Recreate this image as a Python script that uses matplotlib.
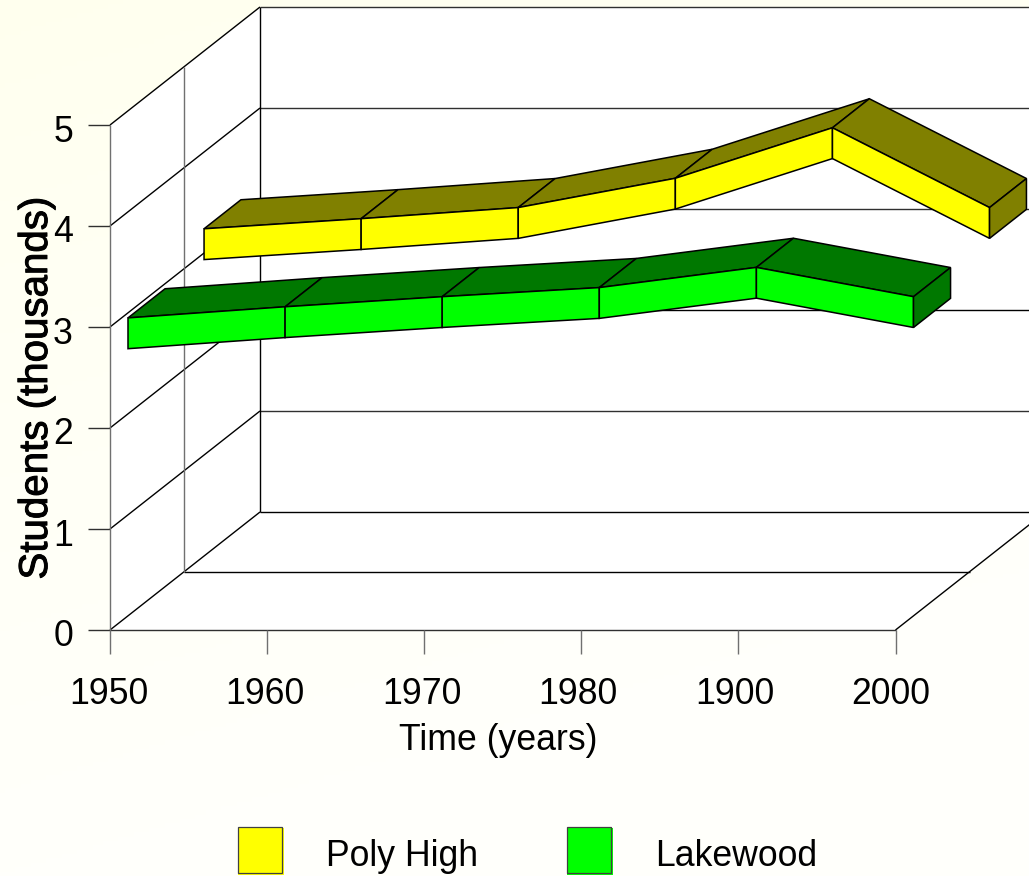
import numpy as np
import matplotlib
matplotlib.use("Agg")
import matplotlib.pyplot as plt
import matplotlib.patheffects as pe
from matplotlib.patches import Polygon, Rectangle
from matplotlib.transforms import Affine2D

plt.rcParams['font.family'] = ['Liberation Sans', 'DejaVu Sans']

# ---- data ----
years = [1950, 1960, 1970, 1980, 1990, 2000]
year_labels = ['1950', '1960', '1970', '1980', '1900', '2000']
value_ticks = [0, 1, 2, 3, 4, 5]
poly_high = [3.24, 3.34, 3.45, 3.74, 4.24, 3.45]
lakewood = [2.95, 3.06, 3.16, 3.25, 3.45, 3.16]
series_names = ['Poly High', 'Lakewood']
x_title = 'Time (years)'
y_title = 'Students (thousands)'

# ---- geometry of the oblique projection ----
W, H = 1029, 876
X0, PX_YEAR = 110.0, 15.71
Y0, PX_VAL = 630.0, 101.0
DEPTH_X, DEPTH_Y = 150.0, 118.0       # pixels of full chart depth
THICK = 0.305                         # ribbon height in value units
YEL = (0.627, 0.873, '#FFFF00', '#808000')
GRN = (0.12, 0.367, '#00FF00', '#007800')
FS = 25.7

fig = plt.figure(figsize=(W / 100, H / 100), dpi=100)

# background wash
bg = fig.add_axes([0, 0, 1, 1], zorder=0)
bg.axis('off')
yy, xx = np.mgrid[0:1:200j, 0:1:200j]
t = np.clip(1.0 * yy + 0.35 * xx, 0, 1) ** 0.8
img = np.dstack([np.full_like(t, 1.0), np.full_like(t, 1.0), (238 + (251 - 238) * t) / 255])
bg.imshow(img, extent=[0, 1, 0, 1], aspect='auto', origin='upper')

ax = fig.add_axes([0, 0, 1, 1], zorder=1)
ax.patch.set_alpha(0)
ax.axis('off')
ax.set_xlim(years[0] - X0 / PX_YEAR, years[0] + (W - X0) / PX_YEAR)
ax.set_ylim(-(H - Y0) / PX_VAL, Y0 / PX_VAL)


def proj(year, val, d):
    """Oblique projection: (year, value, depth 0..1) -> data coordinates."""
    return (year + d * DEPTH_X / PX_YEAR, val + d * DEPTH_Y / PX_VAL)


px = Affine2D().scale(1 / W, -1 / H).translate(0, 1) + fig.transFigure

y_end, v_top = years[-1], value_ticks[-1]
y_start = years[0]

# walls and floor
wall = [proj(y_start, 0, 0), proj(y_start, v_top, 0), proj(y_start, v_top, 1),
        proj(y_end, v_top, 1), proj(y_end, 0, 1), proj(y_end, 0, 0)]
ax.add_patch(Polygon(wall, closed=True, fc='white', ec='none', zorder=1))

LW = 1.0
def seg(p, q, color='black', lw=LW, z=2):
    ax.plot([p[0], q[0]], [p[1], q[1]], color=color, lw=lw, zorder=z,
            solid_capstyle='butt')

GREY = '#707070'
for v in value_ticks:
    seg(proj(y_start, v, 0), proj(y_start, v, 1))
    seg(proj(y_start, v, 1), proj(y_end, v, 1), color='#303030' if v not in (0, 2) else 'black')
    # tick
    a = proj(y_start, v, 0)
    seg(a, (a[0] - 22 / PX_YEAR, a[1]), color='#303030')
    ax.text(73, Y0 - v * PX_VAL + 7, str(v), transform=px, ha='right', va='center',
            fontsize=FS, color='black', zorder=5)

seg(proj(y_start, 0, 0), proj(y_end, 0, 0), color='#303030')
seg(proj(y_start, 0, 0.495), proj(y_end, 0, 0.495))
seg(proj(y_end, 0, 0), proj(y_end, 0, 1))
seg(proj(y_start, 0, 0), proj(y_start, v_top, 0), color=GREY)
seg(proj(y_start, 0, 0.495), proj(y_start, v_top, 0.495), color=GREY)
seg(proj(y_start, 0, 1), proj(y_start, v_top, 1))

for yr, lab in zip(years, year_labels):
    a = proj(yr, 0, 0)
    seg(a, (a[0], a[1] - 24 / PX_VAL), color=GREY)
    ax.text(X0 - 1.5 + (yr - years[0]) * 15.65, 694, lab, transform=px, ha='center',
            va='center', fontsize=FS, color='black', zorder=5)


def ribbon(values, style, z):
    d0, d1, light, dark = style
    kw = dict(closed=True, ec='black', lw=1.1, joinstyle='miter', zorder=z)
    for i in range(len(years) - 1):
        top = [proj(years[i], values[i], d0), proj(years[i + 1], values[i + 1], d0),
               proj(years[i + 1], values[i + 1], d1), proj(years[i], values[i], d1)]
        ax.add_patch(Polygon(top, fc=dark, **kw))
    for i in range(len(years) - 1):
        front = [proj(years[i], values[i], d0), proj(years[i + 1], values[i + 1], d0),
                 proj(years[i + 1], values[i + 1] - THICK, d0), proj(years[i], values[i] - THICK, d0)]
        ax.add_patch(Polygon(front, fc=light, **kw))
    cap = [proj(years[-1], values[-1], d0), proj(years[-1], values[-1], d1),
           proj(years[-1], values[-1] - THICK, d1), proj(years[-1], values[-1] - THICK, d0)]
    ax.add_patch(Polygon(cap, fc=dark, **kw))


ribbon(poly_high, YEL, 3)
ribbon(lakewood, GRN, 4)

# titles
ax.text(498, 741, x_title, transform=px, ha='center', va='center', fontsize=FS, zorder=5)
ylab = ax.text(36, 388, y_title, transform=px, ha='center', va='center', rotation=90,
               fontsize=29, zorder=5)
ylab.set_path_effects([pe.withStroke(linewidth=0.7, foreground='black')])

# legend
for name, left, tx, col in zip(series_names, (238, 567), (326, 655), (YEL[2], GRN[2])):
    ax.add_patch(Rectangle((left, 828), 46, 47, transform=px, fc=col, ec='none', zorder=5))
    ax.add_patch(Rectangle((left, 827), 44, 46, transform=px, fc=col, ec='#404040', lw=0.9, zorder=6))
    ax.text(tx, 857, name, transform=px, ha='left', va='center', fontsize=FS, zorder=6)

fig.savefig('out.png', dpi=100)
